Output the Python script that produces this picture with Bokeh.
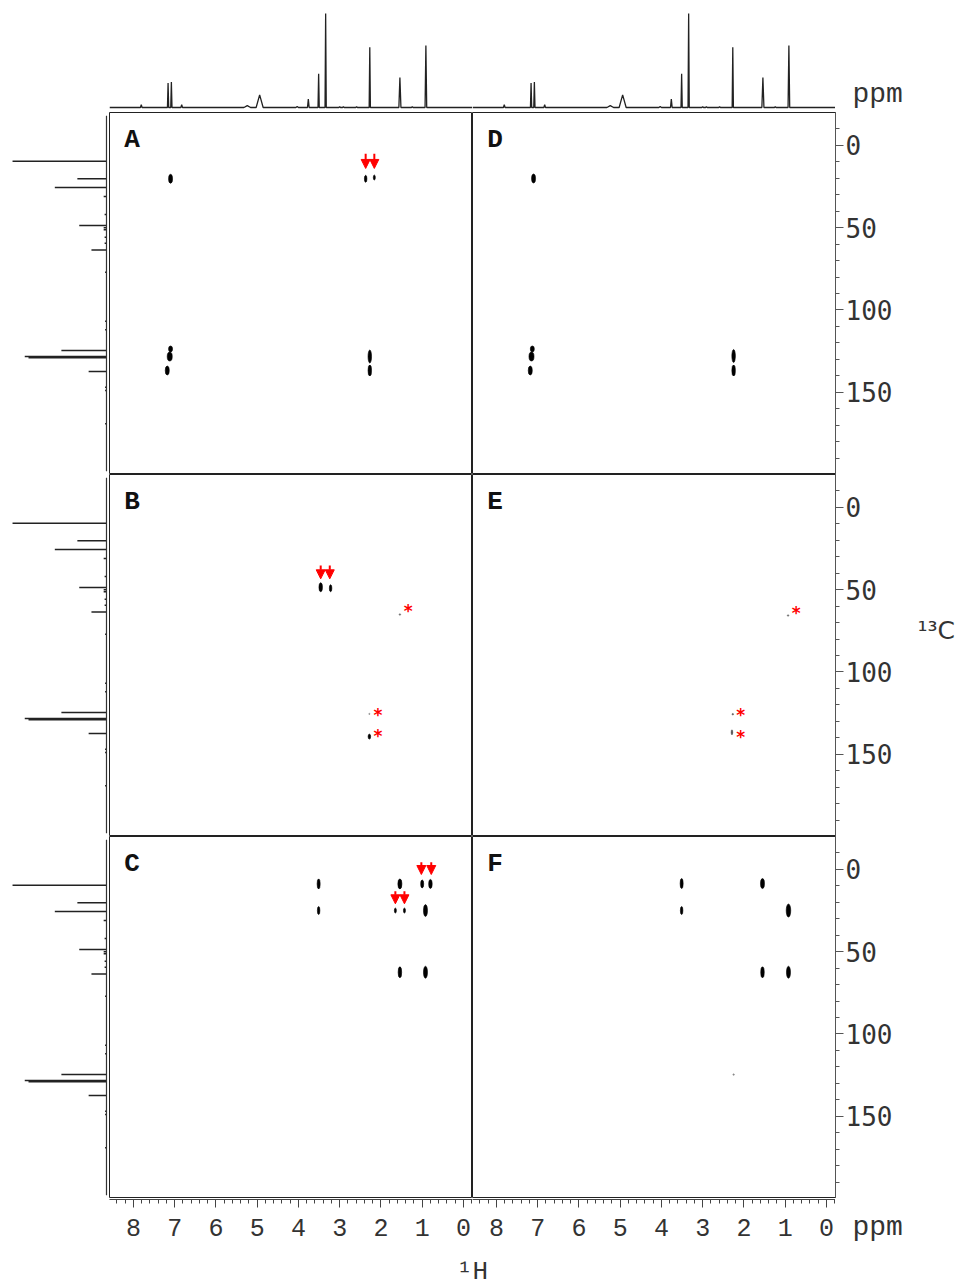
from bokeh.plotting import figure
from bokeh.layouts import row, column
from bokeh.models import (Range1d, Label, Arrow, NormalHead, ColumnDataSource,
                          LinearAxis, FixedTicker, Spacer)
from bokeh.core.properties import value
from bokeh.embed import file_html
from bokeh.resources import INLINE

# ---------------- data ----------------
# 1H projection (top): peak ppm, relative height, half width (ppm)
h1_ppm = [7.81, 7.16, 7.08, 6.83, 5.24, 4.94, 4.03, 3.76, 3.51, 3.34, 3.00, 2.91, 2.59, 2.27, 1.54, 1.24, 0.91]
h1_int = [3, 26, 27, 3, 2, 13.5, 1, 9, 36, 100, 1, 1, 1, 64, 32, 1, 66]
h1_hw = [0.02, 0.015, 0.015, 0.02, 0.08, 0.085, 0.03, 0.02, 0.015, 0.015, 0.02, 0.02, 0.02, 0.015, 0.025, 0.02, 0.02]

# 13C projection (left): ppm, relative height
c13_ppm = [9.6, 20.3, 25.6, 31.1, 42.0, 48.7, 50.1, 51.3, 55.8, 59.5, 63.5, 77.1,
           106.9, 112.1, 124.7, 128.3, 129.1, 137.4, 147.0, 149.0, 169.2]
c13_int = [100, 31, 55, 3, 2, 29, 3, 3, 2, 2, 16, 1.5,
           1.5, 1.5, 48, 87, 83, 19, 1.5, 1.5, 1.5]

# 2D cross peaks per panel: 1H ppm, 13C ppm, blob width/height (px), colour
A_h = [7.10, 2.37, 2.16, 7.10, 7.12, 7.18, 2.27, 2.27]
A_c = [20.3, 20.3, 19.5, 123.7, 128.3, 136.8, 128.3, 136.8]
A_w = [4, 2.5, 2, 4, 5, 4, 3.5, 3.5]
A_s = [9, 7, 5, 6, 9, 9, 13, 11]

D_h = [7.10, 7.13, 7.15, 7.18, 2.25, 2.25]
D_c = [20.1, 123.7, 128.3, 136.8, 128.0, 136.8]
D_w = [4, 4, 5, 4, 3.5, 3.5]
D_s = [9, 6, 9, 9, 13, 11]

B_h = [3.46, 3.22, 1.54, 2.28, 2.28]
B_c = [48.5, 49.1, 65.1, 125.5, 139.3]
B_w = [3.5, 2.5, 1.5, 1.2, 2.5]
B_s = [9, 7, 1.5, 1.2, 5]
B_col = ["black", "black", "#666", "#888", "black"]

E_h = [0.93, 2.27, 2.29]
E_c = [65.7, 125.7, 136.7]
E_w = [1.5, 1.5, 1.5]
E_s = [1.5, 1.5, 5]
E_col = ["#666", "#555", "#444"]

C_h = [3.51, 3.51, 1.54, 1.00, 0.80, 1.65, 1.43, 0.92, 1.54, 0.92]
C_c = [8.8, 25.0, 8.8, 8.8, 8.8, 25.0, 25.0, 25.0, 62.5, 62.5]
C_w = [3, 2.5, 4, 3, 3.5, 2, 2, 4, 3.5, 4]
C_s = [10, 8, 10, 8, 9, 5, 5, 12, 11, 12]

F_h = [3.51, 3.51, 1.55, 0.92, 1.55, 0.92, 2.25]
F_c = [8.6, 25.0, 8.6, 25.0, 62.5, 62.5, 124.7]
F_w = [3, 2.5, 4, 4.5, 3.5, 4, 1.5]
F_s = [10, 8, 10, 13, 11, 12, 1.5]
F_col = ["black"] * 6 + ["#888"]

# red arrows (1H ppm, 13C start, 13C tip)
A_arr_h = [2.37, 2.16]
A_arr_c0 = [5.0, 5.0]
A_arr_c1 = [14.0, 14.0]
B_arr_h = [3.46, 3.24]
B_arr_c0 = [35.3, 35.3]
B_arr_c1 = [43.4, 43.4]
C_arr_h = [1.02, 0.78, 1.65, 1.43]
C_arr_c0 = [-4.4, -4.4, 13.3, 13.3]
C_arr_c1 = [3.1, 3.1, 20.9, 20.9]

# red asterisks
B_star_h = [1.34, 2.07, 2.07]
B_star_c = [60.2, 122.9, 135.6]
E_star_h = [0.73, 2.08, 2.08]
E_star_c = [61.0, 123.3, 136.2]

h_ticks = [8, 7, 6, 5, 4, 3, 2, 1, 0]
h_minor = [i / 5 for i in range(-1, 43)]
c_ticks = [0, 50, 100, 150]
c_minor = [i * 10 for i in range(-1, 20)]

# ---------------- geometry ----------------
X_RANGE = (8.58, -0.22)
Y_RANGE = (200, -20)
FW, FH = 363, 362
COL0 = 101      # 13C projection frame width
LM = 8          # left margin
TM = 8          # top margin
R = 62          # right-axis border
COL3 = 58       # extra column for outside texts
BB = 47         # bottom axis height
TOPH = 104
INK = "#222222"


def base_fig(fw, fh, xr, yr, left=0, right=0, top=0, bottom=0, outline=True):
    p = figure(frame_width=fw, frame_height=fh, x_range=Range1d(*xr), y_range=Range1d(*yr),
               output_backend="svg", toolbar_location=None,
               x_axis_location=None, y_axis_location=None,
               min_border_left=left, min_border_top=top,
               min_border_right=right, min_border_bottom=bottom)
    p.grid.visible = False
    p.background_fill_color = "white"
    p.border_fill_color = "white"
    if outline:
        p.outline_line_color = INK
        p.outline_line_width = 1
    else:
        p.outline_line_color = None
    return p


def add_bottom_axis(p):
    ax = LinearAxis(ticker=FixedTicker(ticks=h_ticks, minor_ticks=h_minor))
    ax.major_label_text_font = "Liberation Mono"
    ax.major_label_text_font_size = "25px"
    ax.major_label_text_color = "#333333"
    ax.major_label_standoff = 11
    ax.major_tick_in = 0
    ax.major_tick_out = 8
    ax.minor_tick_in = 0
    ax.minor_tick_out = 4
    ax.axis_line_color = "#444444"
    ax.major_tick_line_color = "#444444"
    ax.minor_tick_line_color = "#444444"
    p.add_layout(ax, "below")


def add_right_axis(p):
    ax = LinearAxis(ticker=FixedTicker(ticks=c_ticks, minor_ticks=c_minor))
    ax.major_label_text_font = "DejaVu Sans Mono"
    ax.major_label_text_font_size = "26px"
    ax.major_label_text_color = "#333333"
    ax.major_label_standoff = 2
    ax.major_tick_in = 0
    ax.major_tick_out = 8
    ax.minor_tick_in = 0
    ax.minor_tick_out = 4
    ax.axis_line_color = "#555555"
    ax.major_tick_line_color = "#555555"
    ax.minor_tick_line_color = "#555555"
    p.add_layout(ax, "right")


def panel(letter, hx, cy, w, s, col=None, arrows=None, stars=None, right=False):
    p = base_fig(FW, FH, X_RANGE, Y_RANGE, right=R if right else 0)
    if col is None:
        col = ["black"] * len(hx)
    src = ColumnDataSource(dict(x=hx, y=cy, w=w, h=s, c=col))
    p.ellipse(x="x", y="y", width="w", height="h", width_units="screen", height_units="screen",
              fill_color="c", line_color="c", line_width=0.6, source=src)
    if arrows is not None:
        asrc = ColumnDataSource(dict(x=arrows[0], y0=arrows[1], y1=arrows[2]))
        p.add_layout(Arrow(end=NormalHead(size=9, fill_color="red", line_color="red", line_width=1),
                           x_start="x", y_start="y0", x_end="x", y_end="y1", source=asrc,
                           line_color="red", line_width=2))
    if stars is not None:
        p.text(x=stars[0], y=stars[1], text=["*"] * len(stars[0]), text_color="red",
               text_font=value("DejaVu Sans"), text_font_style="bold", text_font_size="17px",
               text_align="center", text_baseline="middle", y_offset=5)
    p.add_layout(Label(x=8.22, y=-12.3, text=letter, text_font="Liberation Mono",
                       text_font_style="bold", text_font_size="26px", text_color="#111111",
                       text_baseline="top", text_align="left"))
    if right:
        add_right_axis(p)
    return p


def h1_projection():
    p = base_fig(FW, TOPH, X_RANGE, (-5.3, 105.3), top=TM, outline=False)
    order = sorted(range(len(h1_ppm)), key=lambda i: -h1_ppm[i])
    xs = [X_RANGE[0]]
    ys = [0]
    for i in order:
        xs += [h1_ppm[i] + h1_hw[i], h1_ppm[i], h1_ppm[i] - h1_hw[i]]
        ys += [0, h1_int[i], 0]
    xs.append(X_RANGE[1])
    ys.append(0)
    p.line(xs, ys, line_color=INK, line_width=1.3)
    return p


def c13_projection():
    p = base_fig(COL0, FH, (104.3, -3.2), Y_RANGE, left=LM, outline=False)
    p.segment(x0=[0] * len(c13_ppm), y0=c13_ppm, x1=c13_int, y1=c13_ppm,
              line_color=INK, line_width=1.5)
    p.segment(x0=[0], y0=[Y_RANGE[0] - 2], x1=[0], y1=[Y_RANGE[1] + 2], line_color="#333333", line_width=1.2)
    return p


def text_box(w, h, txt, x, y, font, size, baseline="middle", align="left"):
    p = base_fig(w, h, (0, w), (0, h), outline=False)
    p.add_layout(Label(x=x, y=y, text=txt, text_font=font, text_font_size=size,
                       text_color="#333333", text_baseline=baseline, text_align=align))
    return p


def axis_strip():
    p = base_fig(FW, 1, X_RANGE, (0, 1), bottom=BB, outline=False)
    add_bottom_axis(p)
    return p


top_left = h1_projection()
top_right = h1_projection()
ppm_top = text_box(R + COL3, TOPH + TM, "ppm", 17, 26, "Liberation Mono", "28px")

pA = panel("A", A_h, A_c, A_w, A_s, arrows=(A_arr_h, A_arr_c0, A_arr_c1))
pD = panel("D", D_h, D_c, D_w, D_s, right=True)
pB = panel("B", B_h, B_c, B_w, B_s, col=B_col, arrows=(B_arr_h, B_arr_c0, B_arr_c1),
           stars=(B_star_h, B_star_c))
pE = panel("E", E_h, E_c, E_w, E_s, col=E_col, stars=(E_star_h, E_star_c), right=True)
pC = panel("C", C_h, C_c, C_w, C_s, arrows=(C_arr_h, C_arr_c0, C_arr_c1))
pF = panel("F", F_h, F_c, F_w, F_s, col=F_col, right=True)

side_A = Spacer(width=COL3, height=FH)
side_B = text_box(COL3, FH, "¹³C", 20, 206, "DejaVu Sans", "25px")
side_C = Spacer(width=COL3, height=FH)

strip_left = axis_strip()
strip_right = axis_strip()
ppm_bottom = text_box(R + COL3, BB + 1, "ppm", 17, 19, "Liberation Mono", "28px")

foot = text_box(955, 40, "¹H", 472, 0, "Liberation Mono", "26px", baseline="bottom", align="center")

cA = c13_projection()
cB = c13_projection()
cC = c13_projection()

layout = column(
    row(Spacer(width=COL0 + LM, height=TOPH + TM), top_left, top_right, ppm_top),
    row(cA, pA, pD, side_A),
    row(cB, pB, pE, side_B),
    row(cC, pC, pF, side_C),
    row(Spacer(width=COL0 + LM, height=BB + 1), strip_left, strip_right, ppm_bottom),
    foot,
)

open("out.html", "w").write(file_html(layout, INLINE))
